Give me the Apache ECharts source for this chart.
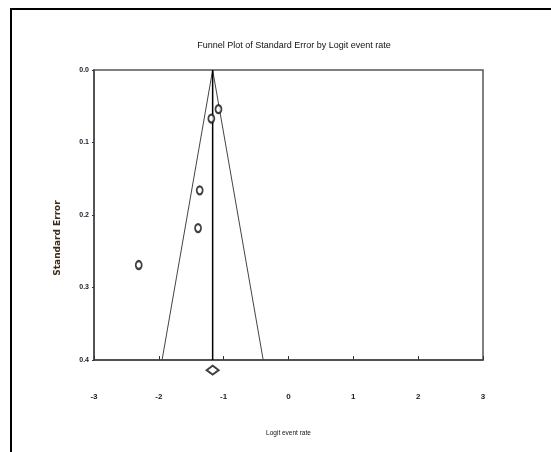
<!DOCTYPE html>
<html><head><meta charset="utf-8">
<script src="https://cdn.jsdelivr.net/npm/echarts@6/dist/echarts.min.js"></script>
<style>html,body{margin:0;padding:0;background:#fff}#c{width:551px;height:452px}</style>
</head><body><div id="c"></div>
<script>
const studyX = [-1.08, -1.19, -1.37, -1.395, -2.31];
const studySE = [0.054, 0.067, 0.166, 0.218, 0.269];
const funnelX = [-1.95, -1.17, -0.39];
const funnelSE = [0.4, 0.0, 0.4];
const pooledX = -1.17;
const pooledLineSE = [0.0, 0.4];
const diamondSE = 0.414;
const xTicks = [-3, -2, -1, 0, 1, 2, 3];
const yTicks = [0.0, 0.1, 0.2, 0.3, 0.4];

const narrow = "'Liberation Sans Narrow', 'Liberation Sans', Arial, sans-serif";
const chart = echarts.init(document.getElementById('c'), null, {renderer: 'canvas'});
chart.setOption({
  animation: false,
  backgroundColor: '#fff',
  title: {
    text: 'Funnel Plot of Standard Error by Logit event rate',
    left: 289, top: 36, textAlign: 'center',
    textStyle: {fontFamily: narrow, fontSize: 9, fontWeight: 'normal', color: '#111'}
  },
  graphic: [{
    type: 'polyline', silent: true,
    shape: {points: [[11, 452], [11, 9], [551, 9]]},
    style: {stroke: '#000', lineWidth: 2, fill: null}
  }, {
    type: 'text', silent: true, x: 58, y: 238, rotation: Math.PI / 2,
    style: {text: 'Standard Error', fontFamily: "'DejaVu Sans', sans-serif", fontSize: 9, fontWeight: 'bold',
      fill: '#3d2b1a', align: 'center', verticalAlign: 'middle'}
  }],
  grid: {left: 94, top: 70, right: 68, bottom: 92, show: true, borderColor: '#555', borderWidth: 1.5},
  xAxis: {
    type: 'value', min: xTicks[0], max: xTicks[xTicks.length - 1], interval: 1,
    name: 'Logit event rate', nameLocation: 'middle', nameGap: 70,
    nameTextStyle: {fontFamily: narrow, fontSize: 6.5, color: '#111'},
    axisLine: {show: true, onZero: false, lineStyle: {color: '#444', width: 1.5}},
    axisTick: {show: true, inside: true, length: 4, lineStyle: {color: '#333'}},
    axisLabel: {margin: 33, fontFamily: narrow, fontSize: 8, color: '#1a1a2a', fontWeight: 'bold'},
    splitLine: {show: false}
  },
  yAxis: {
    type: 'value', inverse: true, min: yTicks[0], max: yTicks[yTicks.length - 1], interval: 0.1,
    axisLine: {show: true, onZero: false, lineStyle: {color: '#444', width: 1.5}},
    axisTick: {show: true, inside: false, length: 2, lineStyle: {color: '#333'}},
    axisLabel: {margin: 5, fontFamily: narrow, fontSize: 7, color: '#1a1a2a', fontWeight: 'bold',
      formatter: v => v.toFixed(1)},
    splitLine: {show: false}
  },
  series: [
    {
      type: 'line', data: funnelX.map((x, i) => [x, funnelSE[i]]),
      showSymbol: false, symbol: 'none', lineStyle: {color: '#444', width: 1}, z: 2
    },
    {
      type: 'line', data: pooledLineSE.map(s => [pooledX, s]),
      showSymbol: false, symbol: 'none', lineStyle: {color: '#000', width: 1.5}, z: 2
    },
    {
      type: 'scatter', data: studyX.map((x, i) => [x, studySE[i]]),
      symbol: 'emptyCircle', symbolSize: [6, 8],
      itemStyle: {color: '#111', borderColor: '#111', borderWidth: 0.9}, z: 3
    },
    {
      type: 'scatter', clip: false, data: [[pooledX, diamondSE]],
      symbol: 'emptyDiamond', symbolSize: [12, 9],
      itemStyle: {color: '#111', borderColor: '#111', borderWidth: 0.9}, z: 3
    }
  ]
});
</script></body></html>
